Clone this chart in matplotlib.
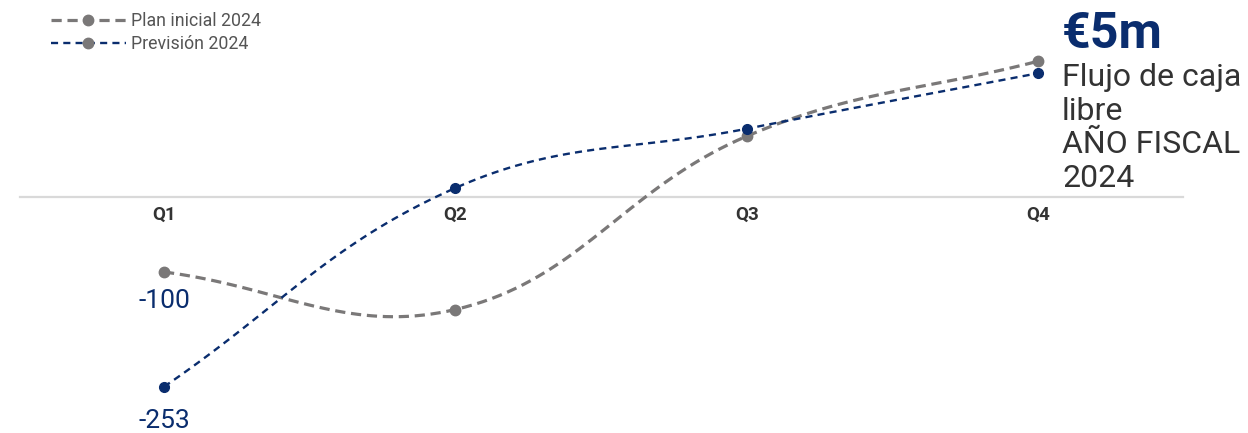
import matplotlib.pyplot as plt
import numpy as np
from matplotlib.lines import Line2D

plt.rcParams['font.family'] = ['Roboto', 'DejaVu Sans']

quarters = ['Q1', 'Q2', 'Q3', 'Q4']
plan_inicial = [-100, -150, 81, 181]
prevision = [-253, 12, 91, 165]
q1_labels = ['-100', '-253']

GRAY = '#7a7878'
BLUE = '#0a2d6e'
TEXT = '#333333'


def spline_path(ax, xs, ys, tension=0.4, steps=40):
    # chart.js-like cardinal spline, control points worked out in pixel space
    pts = ax.transData.transform(np.column_stack([xs, ys]))
    n = len(pts)
    cps = []
    for i in range(n):
        prev = pts[max(i - 1, 0)]
        cur = pts[i]
        nxt = pts[min(i + 1, n - 1)]
        d01 = np.hypot(*(cur - prev))
        d12 = np.hypot(*(nxt - cur))
        tot = d01 + d12 if d01 + d12 > 0 else 1
        fa = tension * d01 / tot
        fb = tension * d12 / tot
        cps.append((cur - fa * (nxt - prev), cur + fb * (nxt - prev)))
    out = []
    t = np.linspace(0, 1, steps)[:, None]
    for i in range(n - 1):
        p0, p3 = pts[i], pts[i + 1]
        p1, p2 = cps[i][1], cps[i + 1][0]
        seg = ((1 - t) ** 3) * p0 + 3 * ((1 - t) ** 2) * t * p1 + 3 * (1 - t) * t ** 2 * p2 + t ** 3 * p3
        out.append(seg if i == 0 else seg[1:])
    out = np.vstack(out)
    return ax.transData.inverted().transform(out).T


fig = plt.figure(figsize=(12.48, 4.33), dpi=100)
ax = fig.add_axes([0, 0, 1, 1])
x = np.arange(len(quarters))
px = 291.33
ax.set_xlim(-164 / px, (1248 - 164) / px)
ax.set_ylim(-(433 - 197) / 0.75, 197 / 0.75)
ax.axis('off')

ax.plot([-144 / px, (1183 - 164) / px], [0, 0], color='#d9d9d9', lw=1.6, zorder=1)

sx, sy = spline_path(ax, x, plan_inicial)
ax.plot(sx, sy, color=GRAY, lw=2.3, dashes=(3.2, 1.8), zorder=2)
ax.plot(x, plan_inicial, 'o', color=GRAY, ms=7.5, zorder=3)

sx, sy = spline_path(ax, x, prevision)
ax.plot(sx, sy, color=BLUE, lw=1.7, dashes=(3, 2.2), zorder=4)
ax.plot(x, prevision, 'o', color=BLUE, ms=7, zorder=5)

for xi, q in zip(x, quarters):
    ax.text(xi, -24, q, ha='center', va='center', fontsize=13.5, fontweight='bold', color=TEXT)

ax.text(0, plan_inicial[0] - 38, q1_labels[0], ha='center', va='center', fontsize=19, color=BLUE)
ax.text(0, prevision[0] - 46, q1_labels[1], ha='center', va='center', fontsize=19, color=BLUE)

fig.text(1062 / 1248, 1 - 34 / 433, '€5m', ha='left', va='center', fontsize=36, fontweight='bold', color=BLUE)
fig.text(1062 / 1248, 1 - 128 / 433, 'Flujo de caja\nlibre\nAÑO FISCAL\n2024', ha='left', va='center',
         fontsize=23, color=TEXT, linespacing=1.2)

handles = [
    Line2D([], [], color=GRAY, lw=2.3, dashes=(3.2, 1.8), marker='o', ms=7.5, mfc=GRAY, mec=GRAY),
    Line2D([], [], color=BLUE, lw=1.7, dashes=(3, 2.2), marker='o', ms=7.5, mfc=GRAY, mec=GRAY),
]
fig.legend(handles, ['Plan inicial 2024', 'Previsión 2024'], loc='upper left',
           bbox_to_anchor=(35 / 1248, 1 + 4 / 433), frameon=False, fontsize=12.8,
           handlelength=4.2, handletextpad=0.3, labelspacing=0.3, labelcolor='#555555')

fig.savefig('out.png', dpi=100)
